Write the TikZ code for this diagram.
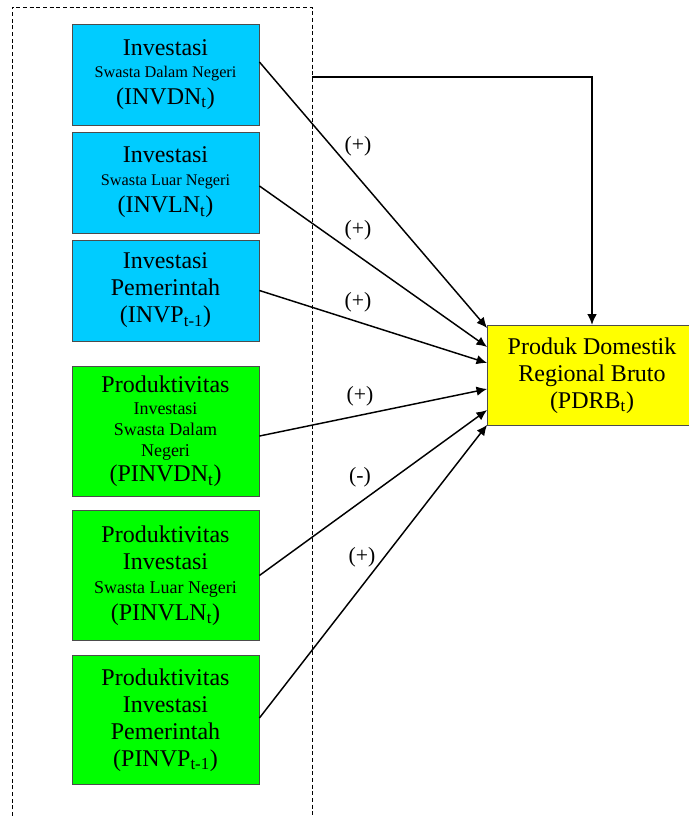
\documentclass[tikz,border=0pt]{standalone}
\usepackage{fontspec}
\setmainfont{Liberation Serif}
\usepackage{tikz}
\usetikzlibrary{arrows.meta}
\usepackage{xcolor}

\definecolor{cyanbox}{RGB}{0,204,255}
\definecolor{greenbox}{RGB}{0,255,0}
\definecolor{yellowbox}{RGB}{255,255,0}
\newcommand{\besar}{\fontsize{18}{20.25}\selectfont}
\newcommand{\kecil}{\fontsize{12.2}{14}\selectfont}
\newcommand{\sedang}{\fontsize{13.5}{15.5}\selectfont}

\begin{document}
\begin{tikzpicture}[x=0.75pt,y=-0.75pt]
\tikzset{>={Latex[width=2.5mm,length=2.8mm]}}
\tikzstyle{box}=[draw=black!70,line width=0.6pt,inner sep=0pt,align=center,font=\besar]
\tikzstyle{inv}=[box,fill=cyanbox,minimum width=140.25pt,minimum height=75.75pt]
\tikzstyle{prod}=[box,fill=greenbox,minimum width=140.25pt,minimum height=97pt]
\tikzstyle{sign}=[font=\fontsize{16.3}{18}\selectfont]
\tikzstyle{link}=[->,line width=1.1pt]
\useasboundingbox (0,0) rectangle (688,816);

\draw[line width=0.5pt,dash pattern=on 3pt off 2pt] (12,816) -- (12,7) -- (312,7) -- (312,816);

\node[inv](inv1) at (165.5,74.5){Investasi\\[-4pt]{\kecil Swasta Dalam Negeri}\\(INVDN\textsubscript{t})};
\node[inv](inv2) at (165.5,182.5){Investasi\\[-3pt]{\kecil Swasta Luar Negeri}\\(INVLN\textsubscript{t})};
\node[inv](inv3) at (165.5,290.5){Investasi\\Pemerintah\\(INVP\textsubscript{t-1})};

\node[prod](prod1) at (165.5,431.5){Produktivitas\\[-4pt]{\sedang Investasi}\\[-4.5pt]{\sedang Swasta Dalam}\\[-4.5pt]{\sedang Negeri}\\[-1pt](PINVDN\textsubscript{t})};
\node[prod](prod2) at (165.5,575.5){Produktivitas\\Investasi\\[-2pt]{\sedang Swasta Luar Negeri}\\(PINVLN\textsubscript{t})};
\node[prod](prod3) at (165.5,720){Produktivitas\\Investasi\\Pemerintah\\(PINVP\textsubscript{t-1})};

\node[box,fill=yellowbox,minimum width=156.75pt,minimum height=75.4pt](pdrb) at (592,375.5){Produk Domestik\\Regional Bruto\\(PDRB\textsubscript{t})};

\coordinate (fb) at (312,77);
\draw[link] (fb) -| (pdrb.north);

\draw[link] ([yshift=9.4pt]inv1.east) -- ([yshift=35.6pt]pdrb.west);
\draw[link] ([yshift=-2.6pt]inv2.east) -- ([yshift=21.4pt]pdrb.west);
\draw[link] (inv3.east) -- ([yshift=9.4pt]pdrb.west);
\draw[link] ([yshift=-3.4pt]prod1.east) -- ([yshift=-10.1pt]pdrb.west);
\draw[link] (prod2.east) -- ([yshift=-25.9pt]pdrb.west);
\draw[link] ([yshift=1.5pt]prod3.east) -- ([yshift=-37pt]pdrb.west);

\node[sign](s1) at (358,146){(+)};
\node[sign](s2) at (358,230){(+)};
\node[sign](s3) at (358,302){(+)};
\node[sign](s4) at (360,396){(+)};
\node[sign](s5) at (360,477){(-)};
\node[sign](s6) at (362,557){(+)};
\end{tikzpicture}
\end{document}
